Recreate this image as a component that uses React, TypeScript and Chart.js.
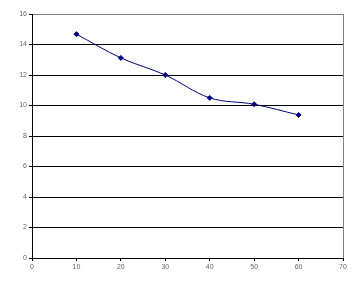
import React, { useEffect, useRef } from "react";
import { Chart, registerables } from "chart.js";

Chart.register(...registerables);

const xValues = [10, 20, 30, 40, 50, 60];
const yValues = [14.68, 13.12, 12.0, 10.5, 10.08, 9.38];
const xTicks = [0, 10, 20, 30, 40, 50, 60, 70];
const yTicks = [0, 2, 4, 6, 8, 10, 12, 14, 16];

export default function App() {
  const ref = useRef<HTMLCanvasElement | null>(null);
  useEffect(() => {
    if (!ref.current) return;
    const font = { family: "'Liberation Sans', Arial, sans-serif", size: 7 };
    const chart = new Chart(ref.current, {
      type: "scatter",
      data: {
        datasets: [
          {
            data: xValues.map((x, i) => ({ x, y: yValues[i] })),
            showLine: true,
            borderColor: "#000080",
            backgroundColor: "#000080",
            borderWidth: 1,
            pointStyle: "rectRot",
            pointRadius: 2.5,
            pointBorderWidth: 1,
            tension: 0.35,
          },
        ],
      },
      options: {
        animation: false,
        responsive: false,
        devicePixelRatio: 1,
        layout: { padding: { left: 0, right: 13, top: 14, bottom: 0 } },
        plugins: { legend: { display: false }, tooltip: { enabled: false } },
        scales: {
          x: {
            type: "linear",
            min: 0,
            max: 70,
            afterFit: (s: any) => {
              s.height = 25;
            },
            afterBuildTicks: (s: any) => {
              s.ticks = xTicks.map((v) => ({ value: v }));
            },
            border: { color: "#000000", width: 1 },
            grid: {
              color: (c: any) => (c.tick && c.tick.value === 70 ? "#808080" : "rgba(0,0,0,0)"),
              tickColor: "#000000",
              tickLength: 3,
              lineWidth: 1,
            },
            ticks: { color: "#666666", font, padding: 2, maxRotation: 0 },
          },
          y: {
            type: "linear",
            min: 0,
            max: 16,
            afterFit: (s: any) => {
              s.width = 32;
            },
            afterBuildTicks: (s: any) => {
              s.ticks = yTicks.map((v) => ({ value: v }));
            },
            border: { color: "#000000", width: 1 },
            grid: {
              color: (c: any) => (c.tick && c.tick.value === 16 ? "#808080" : "#000000"),
              tickColor: "#000000",
              tickLength: 3,
              lineWidth: 1,
            },
            ticks: { color: "#666666", font, padding: 2 },
          },
        },
      },
    });
    return () => chart.destroy();
  }, []);
  return (
    <div style={{ position: "absolute", left: 0, top: 0, width: 356, height: 283, background: "#fff" }}>
      <canvas ref={ref} width={356} height={283} style={{ width: 356, height: 283, display: "block" }} />
    </div>
  );
}
